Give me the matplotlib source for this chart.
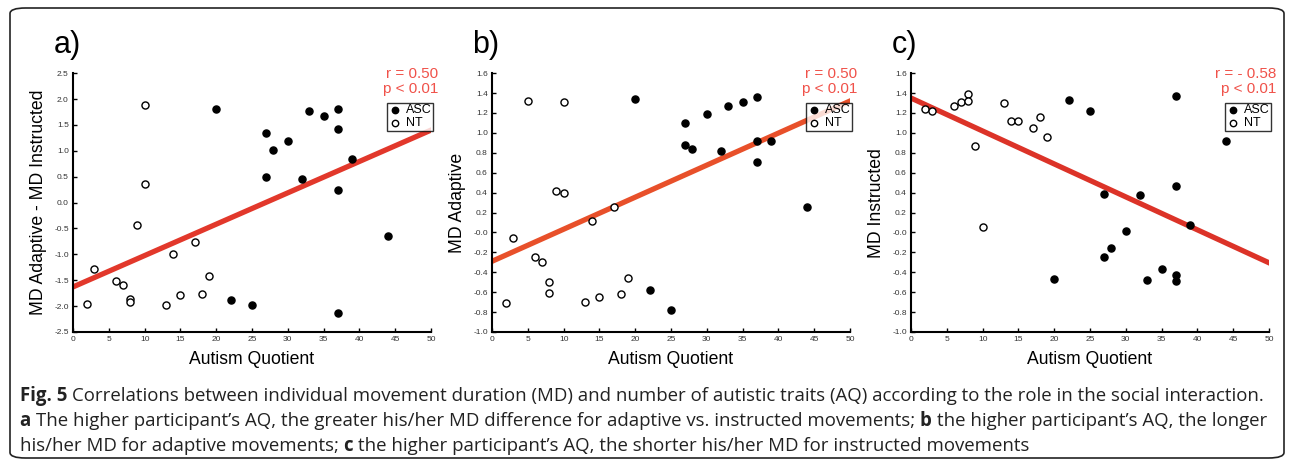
import numpy as np
import matplotlib
matplotlib.use("Agg")
import matplotlib.pyplot as plt
from matplotlib.patches import FancyBboxPatch

plt.rcParams['font.family'] = ['Liberation Sans', 'DejaVu Sans']

# panel a: MD Adaptive - MD Instructed
a_nt_x = [2, 3, 10, 10, 9, 6, 7, 8, 8, 13, 14, 15, 17, 18, 19]
a_nt_y = [-1.95, -1.28, 1.88, 0.36, -0.44, -1.51, -1.60, -1.87, -1.93, -1.98, -1.0, -1.78, -0.77, -1.77, -1.41]
a_asc_x = [20, 22, 25, 27, 27, 28, 30, 32, 33, 35, 37, 37, 37, 37, 39, 44]
a_asc_y = [1.81, -1.89, -1.98, 1.35, 0.49, 1.01, 1.18, 0.45, 1.76, 1.68, 1.80, 1.42, 0.24, -2.13, 0.85, -0.64]

# panel b: MD Adaptive
b_nt_x = [2, 3, 5, 6, 7, 8, 8, 9, 10, 10, 13, 14, 15, 17, 18, 19]
b_nt_y = [-0.71, -0.06, 1.32, -0.25, -0.30, -0.50, -0.61, 0.42, 1.31, 0.40, -0.70, 0.115, -0.65, 0.26, -0.62, -0.46]
b_asc_x = [20, 22, 25, 27, 27, 28, 30, 32, 33, 35, 37, 37, 37, 39, 44]
b_asc_y = [1.34, -0.58, -0.78, 1.10, 0.88, 0.84, 1.19, 0.82, 1.27, 1.31, 1.36, 0.92, 0.71, 0.92, 0.26]

# panel c: MD Instructed
c_nt_x = [2, 3, 6, 7, 8, 8, 9, 10, 13, 14, 15, 17, 18, 19]
c_nt_y = [1.24, 1.22, 1.27, 1.31, 1.39, 1.32, 0.865, 0.055, 1.30, 1.12, 1.12, 1.05, 1.16, 0.96]
c_asc_x = [20, 22, 25, 27, 27, 28, 30, 32, 33, 35, 37, 37, 37, 37, 39, 44]
c_asc_y = [-0.47, 1.33, 1.22, 0.39, -0.25, -0.155, 0.015, 0.38, -0.48, -0.365, 1.37, 0.47, -0.43, -0.49, 0.07, 0.915]

# fitted lines (intercept, slope)
fits = [(-1.63, 0.0606), (-0.29, 0.0322), (1.35, -0.0331)]
stats = ["r = 0.50\np < 0.01", "r = 0.50\np < 0.01", "r = - 0.58\np < 0.01"]
ylabels = ["MD Adaptive - MD Instructed", "MD Adaptive", "MD Instructed"]
letters = ["a)", "b)", "c)"]
ylims = [(-2.5, 2.5), (-1.0, 1.6), (-1.0, 1.6)]
ysteps = [0.5, 0.2, 0.2]
line_colors = ["#e2382b", "#e8502a", "#dc3328"]

panels = [(a_nt_x, a_nt_y, a_asc_x, a_asc_y),
          (b_nt_x, b_nt_y, b_asc_x, b_asc_y),
          (c_nt_x, c_nt_y, c_asc_x, c_asc_y)]

fig = plt.figure(figsize=(12.9, 4.63), dpi=100)

# rounded frame
frame = FancyBboxPatch((10 / 1290, 5 / 463), 1274 / 1290, 450 / 463,
                       boxstyle="round,pad=0,rounding_size=0.012",
                       transform=fig.transFigure, fill=False,
                       edgecolor="#222222", linewidth=1.2)
fig.patches.append(frame)

lefts = [73, 492, 911]
for i, (ntx, nty, ax_, ay_) in enumerate(panels):
    ax = fig.add_axes([lefts[i] / 1290, 0.283, 358 / 1290, 0.559])
    b0, b1 = fits[i]
    xs = np.array([0, 50])
    ax.plot(xs, b0 + b1 * xs, color=line_colors[i], lw=3.8, zorder=2)
    ax.scatter(ax_, ay_, s=26, color="black", zorder=3, label="ASC")
    ax.scatter(ntx, nty, s=26, facecolor="white", edgecolor="black", linewidths=1.0,
               zorder=3, label="NT")
    ax.set_xlim(0, 50)
    ax.set_ylim(*ylims[i])
    ax.set_xticks(np.arange(0, 51, 5))
    ax.set_yticks(np.arange(ylims[i][0], ylims[i][1] + 1e-6, ysteps[i]))
    ax.yaxis.set_major_formatter(plt.FormatStrFormatter("%.1f"))
    ax.tick_params(direction="in", length=3, width=1, labelsize=6, colors="black",
                   labelcolor="#333333", pad=3)
    for s in ["top", "right"]:
        ax.spines[s].set_visible(False)
    for s in ["left", "bottom"]:
        ax.spines[s].set_linewidth(1.5)
    ax.set_xlabel("Autism Quotient", fontsize=12.7, labelpad=6)
    ax.set_ylabel(ylabels[i], fontsize=12.7, labelpad=5)
    ax.text(1.02, 1.025, stats[i], transform=ax.transAxes, ha="right", va="top",
            color="#f0524a", fontsize=11, linespacing=1.15)
    leg = ax.legend(loc="upper right", bbox_to_anchor=(1.005, 0.885), fontsize=9,
                    frameon=True, fancybox=False, edgecolor="black", handletextpad=0.35,
                    borderpad=0.12, labelspacing=0.05, handlelength=1.0, borderaxespad=0,
                    markerscale=0.9)
    leg.get_frame().set_linewidth(1.0)
    leg.set_zorder(5)
    ax.text(-0.055, 1.11, letters[i], transform=ax.transAxes, fontsize=22,
            ha="left", va="center")

cap_font = ['Open Sans', 'DejaVu Sans']


def rich_line(parts, y):
    x = 20 / 1290
    renderer = fig.canvas.get_renderer()
    for txt, bold in parts:
        t = fig.text(x, y, txt, fontsize=13.4, va="center", family=cap_font,
                     fontweight="bold" if bold else "normal", color="#222222")
        bb = t.get_window_extent(renderer=renderer)
        x += bb.width / fig.bbox.width


rich_line([("Fig. 5 ", True), ("Correlations between individual movement duration (MD) and number of autistic traits (AQ) according to the role in the social interaction.", False)], 1 - 396 / 463)
rich_line([("a ", True), ("The higher participant\u2019s AQ, the greater his/her MD difference for adaptive vs. instructed movements; ", False), ("b ", True), ("the higher participant\u2019s AQ, the longer", False)], 1 - 421 / 463)
rich_line([("his/her MD for adaptive movements; ", False), ("c ", True), ("the higher participant\u2019s AQ, the shorter his/her MD for instructed movements", False)], 1 - 446 / 463)

fig.savefig("out.png", dpi=100)
